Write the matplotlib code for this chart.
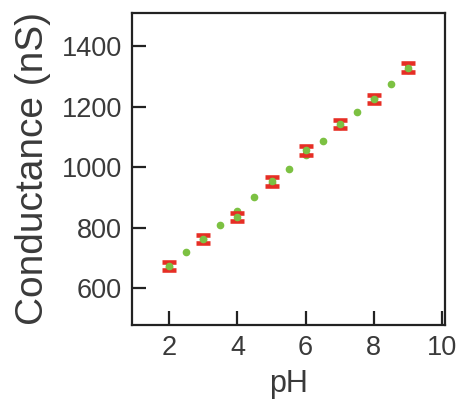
import matplotlib.pyplot as plt

plt.rcParams["font.family"] = ["Liberation Sans", "DejaVu Sans"]

# measured conductance vs pH
ph = [2, 3, 4, 5, 6, 7, 8, 9]
conductance = [675, 763, 836, 954, 1056, 1143, 1225, 1329]
conductance_err = [14, 14, 14, 14, 14, 14, 14, 14]

# linear fit, sampled every half pH unit
fit_ph = [2, 2.5, 3, 3.5, 4, 4.5, 5, 5.5, 6, 6.5, 7, 7.5, 8, 8.5, 9]
fit_conductance = [672, 719, 764, 809, 855, 902, 949, 996, 1041, 1086, 1135, 1184, 1229, 1274, 1320]

RED = "#e62e25"
GREEN = "#7cc142"
INK = "#3a3a3a"

fig = plt.figure(figsize=(4.58, 4.03), dpi=100)
ax = fig.add_axes([0.288, 0.194, 0.684, 0.774])

ax.plot(fit_ph, fit_conductance, linestyle="none", marker="o", ms=4.5,
        color=GREEN, zorder=2)
ax.errorbar(ph, conductance, yerr=conductance_err, fmt="none", ecolor=RED,
            elinewidth=4, capsize=4.8, capthick=3.3, zorder=3)
ax.plot(ph, conductance, linestyle="none", marker="o", ms=4.5,
        color=GREEN, zorder=4)

ax.set_xlim(0.9, 10.1)
ax.set_ylim(480, 1510)
ax.set_xticks([2, 4, 6, 8, 10])
ax.set_yticks([600, 800, 1000, 1200, 1400])

for side in ax.spines.values():
    side.set_linewidth(1.6)
    side.set_color("#222222")

ax.tick_params(direction="in", length=10, width=1.6, color="#222222",
               labelsize=19.5, labelcolor=INK, pad=7)

ax.set_xlabel("pH", fontsize=22, color=INK, labelpad=6)
ax.set_ylabel("Conductance (nS)", fontsize=28, color=INK, labelpad=8)

fig.savefig("out.png", dpi=100)
